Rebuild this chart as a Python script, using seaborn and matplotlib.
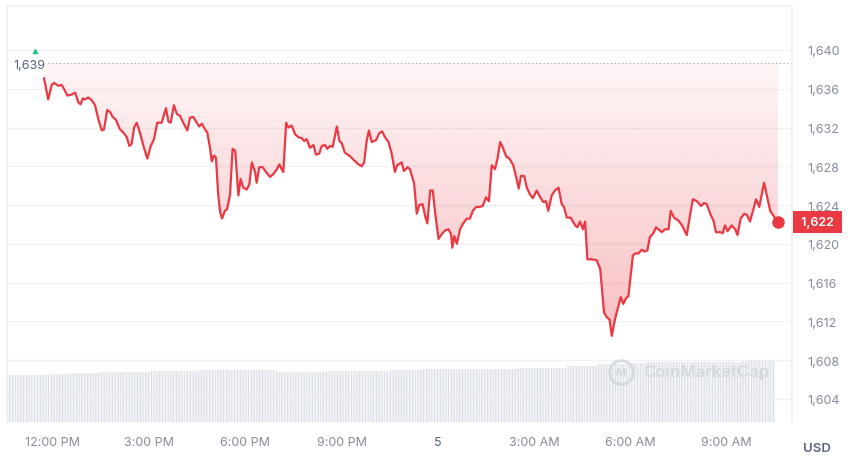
import matplotlib
matplotlib.use("Agg")
import matplotlib.pyplot as plt
import matplotlib.transforms as mtransforms
import seaborn as sns
import numpy as np
import pandas as pd

# price, hours after 12:00 PM
hours = [
    -0.28, -0.15, -0.04, 0.03, 0.17, 0.27, 0.34, 0.45, 0.58, 0.69,
    0.79, 0.86, 0.93, 1.00, 1.10, 1.21, 1.31, 1.41, 1.52, 1.59,
    1.69, 1.78, 1.86, 1.96, 2.09, 2.19, 2.30, 2.38, 2.45, 2.53,
    2.61, 2.69, 2.82, 2.94, 3.05, 3.15, 3.25, 3.39, 3.52, 3.60,
    3.67, 3.77, 3.86, 3.96, 4.06, 4.19, 4.27, 4.37, 4.48, 4.56,
    4.64, 4.74, 4.81, 4.90, 4.95, 5.02, 5.08, 5.15, 5.21, 5.27,
    5.36, 5.43, 5.52, 5.60, 5.68, 5.78, 5.85, 5.93, 6.04, 6.12,
    6.20, 6.30, 6.35, 6.43, 6.54, 6.64, 6.77, 6.87, 6.98, 7.06,
    7.13, 7.18, 7.27, 7.34, 7.44, 7.55, 7.65, 7.76, 7.83, 7.91,
    8.01, 8.12, 8.20, 8.30, 8.38, 8.48, 8.55, 8.64, 8.72, 8.85,
    8.93, 9.00, 9.10, 9.24, 9.39, 9.52, 9.63, 9.70, 9.78, 9.85,
    9.94, 10.07, 10.17, 10.26, 10.35, 10.46, 10.56, 10.66, 10.73, 10.87,
    10.94, 11.05, 11.13, 11.26, 11.34, 11.42, 11.52, 11.60, 11.67, 11.76,
    11.84, 11.91, 12.02, 12.12, 12.23, 12.33, 12.41, 12.45, 12.51, 12.59,
    12.69, 12.79, 12.90, 13.00, 13.09, 13.19, 13.29, 13.40, 13.50, 13.59,
    13.68, 13.78, 13.86, 13.94, 14.04, 14.13, 14.23, 14.35, 14.44, 14.52,
    14.59, 14.69, 14.77, 14.87, 14.96, 15.08, 15.19, 15.29, 15.37, 15.44,
    15.55, 15.65, 15.76, 15.86, 15.93, 16.02, 16.14, 16.28, 16.35, 16.43,
    16.52, 16.59, 16.66, 16.80, 16.95, 17.06, 17.18, 17.27, 17.35, 17.42,
    17.52, 17.63, 17.70, 17.78, 17.87, 17.94, 18.08, 18.15, 18.25, 18.36,
    18.43, 18.53, 18.61, 18.72, 18.80, 18.87, 18.98, 19.08, 19.19, 19.26,
    19.36, 19.50, 19.61, 19.76, 19.87, 19.95, 20.07, 20.20, 20.30, 20.38,
    20.49, 20.59, 20.67, 20.80, 20.88, 20.95, 21.03, 21.16, 21.27, 21.34,
    21.44, 21.55, 21.63, 21.73, 21.84, 21.92, 22.02, 22.17, 22.25, 22.36,
    22.46, 22.57, 22.60,
]
price = [
    1637.1, 1634.9, 1636.4, 1636.6, 1636.3, 1636.4, 1636.0, 1635.3, 1635.4, 1635.6,
    1634.6, 1634.4, 1635.0, 1634.9, 1635.1, 1634.8, 1634.3, 1632.9, 1631.7, 1631.8,
    1633.8, 1633.6, 1633.1, 1632.8, 1631.8, 1631.5, 1631.0, 1630.1, 1630.3, 1632.0,
    1632.5, 1631.7, 1630.1, 1628.8, 1630.1, 1630.8, 1632.5, 1632.5, 1634.0, 1632.6,
    1632.5, 1634.3, 1633.4, 1633.2, 1632.5, 1631.7, 1633.0, 1633.1, 1632.5, 1632.1,
    1632.4, 1631.8, 1631.5, 1629.8, 1628.5, 1629.1, 1628.9, 1625.1, 1623.3, 1622.6,
    1623.4, 1623.6, 1625.1, 1629.8, 1629.6, 1625.0, 1626.7, 1625.8, 1625.6, 1626.1,
    1628.4, 1627.4, 1626.3, 1627.9, 1627.9, 1627.4, 1626.9, 1627.2, 1627.7, 1628.2,
    1627.7, 1627.4, 1632.5, 1632.0, 1632.2, 1631.3, 1631.0, 1630.9, 1630.6, 1630.8,
    1629.9, 1630.2, 1629.2, 1629.3, 1630.1, 1630.2, 1629.8, 1630.1, 1630.0, 1632.1,
    1630.6, 1630.4, 1629.4, 1629.1, 1628.6, 1628.2, 1628.0, 1628.4, 1630.6, 1631.7,
    1630.5, 1630.7, 1631.4, 1631.6, 1631.0, 1630.5, 1629.3, 1627.4, 1628.1, 1628.4,
    1627.5, 1627.9, 1627.7, 1626.2, 1623.1, 1624.0, 1624.1, 1622.9, 1622.1, 1625.5,
    1625.5, 1623.3, 1620.5, 1621.0, 1621.4, 1621.5, 1621.0, 1619.6, 1620.8, 1620.0,
    1621.5, 1622.1, 1622.6, 1622.6, 1623.4, 1623.8, 1623.8, 1623.9, 1624.8, 1624.4,
    1628.1, 1627.7, 1628.8, 1630.5, 1629.8, 1629.0, 1628.8, 1628.1, 1626.9, 1625.7,
    1627.0, 1627.0, 1625.8, 1625.1, 1624.7, 1625.5, 1624.8, 1624.3, 1624.4, 1623.4,
    1625.0, 1625.5, 1625.8, 1624.1, 1623.8, 1622.7, 1622.7, 1621.9, 1621.7, 1622.3,
    1621.5, 1622.3, 1618.4, 1618.4, 1618.3, 1617.4, 1612.9, 1612.4, 1612.2, 1610.5,
    1612.2, 1613.6, 1614.5, 1613.8, 1614.4, 1614.6, 1618.8, 1619.0, 1619.0, 1619.4,
    1619.2, 1619.3, 1620.7, 1621.1, 1621.7, 1621.5, 1621.2, 1621.5, 1621.5, 1623.4,
    1622.7, 1622.4, 1621.9, 1620.9, 1623.1, 1624.6, 1624.4, 1623.9, 1624.2, 1624.1,
    1623.1, 1622.4, 1621.2, 1621.2, 1621.1, 1621.9, 1621.3, 1621.9, 1621.5, 1620.9,
    1622.6, 1623.1, 1623.0, 1622.3, 1623.6, 1624.6, 1623.8, 1626.3, 1625.1, 1623.4,
    1622.9, 1622.4, 1622.2,
]

# volume bars (half hour buckets), rough values in millions
vol_hours = [
    -1.25, -0.75, -0.25, 0.25, 0.75, 1.25, 1.75, 2.25, 2.75, 3.25,
    3.75, 4.25, 4.75, 5.25, 5.75, 6.25, 6.75, 7.25, 7.75, 8.25,
    8.75, 9.25, 9.75, 10.25, 10.75, 11.25, 11.75, 12.25, 12.75, 13.25,
    13.75, 14.25, 14.75, 15.25, 15.75, 16.25, 16.75, 17.25, 17.75, 18.25,
    18.75, 19.25, 19.75, 20.25, 20.75, 21.25, 21.75, 22.25,
]
volume = [
    236, 236, 237, 238, 244, 245, 249, 250, 251, 254,
    255, 257, 260, 261, 262, 262, 258, 251, 250, 252,
    254, 255, 256, 257, 258, 262, 265, 266, 266, 265,
    266, 267, 269, 270, 272, 278, 282, 288, 290, 293,
    298, 300, 301, 301, 302, 302, 303, 303,
]

ref_price = 1638.66
tick_hours = [0, 3, 6, 9, 12, 15, 18, 21]
tick_labels = ["12:00 PM", "3:00 PM", "6:00 PM", "9:00 PM", "5", "3:00 AM", "6:00 AM", "9:00 AM"]
price_ticks = [1604, 1608, 1612, 1616, 1620, 1624, 1628, 1632, 1636, 1640]

red = "#ea3943"
grey = "#858c9a"
dark = "#58667e"

sns.set_theme(style="white")
plt.rcParams["font.family"] = ["Inter", "DejaVu Sans"]
plt.rcParams["hatch.linewidth"] = 0.5

df = pd.DataFrame({"hours": hours, "price": price})

fig = plt.figure(figsize=(8.5, 4.64), dpi=100)
ax = fig.add_axes([7 / 850, 1 - 423 / 464, 785 / 850, 416 / 464])

# volume underneath
axv = ax.twinx()
axv.bar(vol_hours, volume, width=0.52, color="#f1f3f6", edgecolor="#d3d8df",
        linewidth=0, hatch="||||||")
axv.set_ylim(0, 2080)
axv.set_yticks([])
for s in axv.spines.values():
    s.set_visible(False)
ax.set_zorder(axv.get_zorder() + 1)
ax.patch.set_visible(False)

# gradient fill between price and reference level
poly = ax.fill_between(df["hours"], df["price"], ref_price, color="none", lw=0)
lo = min(price)
alpha = np.linspace(0.32, 0.05, 256).reshape(-1, 1)
img = np.zeros((256, 1, 4))
img[..., 0] = 234 / 255
img[..., 1] = 57 / 255
img[..., 2] = 67 / 255
img[..., 3] = alpha[:, 0:1]
im = ax.imshow(img, extent=(hours[0], hours[-1], lo, ref_price), origin="lower",
               aspect="auto", zorder=1)
im.set_clip_path(poly.get_paths()[0], transform=ax.transData)

sns.lineplot(data=df, x="hours", y="price", color=red, linewidth=1.6, ax=ax, zorder=3)
ax.plot(hours[-1], price[-1], "o", color=red, ms=8, zorder=4)

ax.axhline(ref_price, xmin=0.052, xmax=1, color="#a3a9b5", lw=0.9,
           linestyle=(0, (1, 2)), zorder=2)
ax.annotate(f"{ref_price:,.0f}", xy=(hours[0], ref_price), xytext=(1, -2),
            textcoords="offset pixels", ha="right", va="center",
            fontsize=9, color=dark)
tri = mtransforms.offset_copy(ax.transData, fig=fig, x=-9, y=12, units="dots")
ax.plot(hours[0], ref_price, marker="^", ms=3, color="#16c784", transform=tri)

ax.set_xlim(-1.434, 23.04)
ax.set_ylim(1601.61, 1644.54)
ax.set_xticks(tick_hours, tick_labels)
ax.yaxis.tick_right()
ax.set_yticks(price_ticks, [f"{p:,}" for p in price_ticks])
ax.tick_params(axis="x", length=0, pad=10, labelsize=9, colors=grey)
ax.tick_params(axis="y", length=0, pad=11, labelsize=9, colors=grey)
ax.get_xticklabels()[4].set_color(dark)
ax.set_xlabel("")
ax.set_ylabel("")
ax.grid(axis="y", color="#eff1f4", lw=1)
for s in ax.spines.values():
    s.set_color("#eef0f3")
ax.spines["bottom"].set_visible(False)

# last price tag
ax.annotate(f" {price[-1]:,.0f} ", xy=(1.0325, price[-1]),
            xycoords=("axes fraction", "data"), ha="center", va="center",
            fontsize=9, color="white", fontweight="semibold",
            bbox=dict(boxstyle="square,pad=0.4", fc=red, ec="none"))

# watermark
ax.plot([0.782], [0.121], marker="o", ms=17, mfc="none", mec="#d5d9e0", mew=2,
        transform=ax.transAxes)
ax.text(0.782, 0.121, "M", transform=ax.transAxes, ha="center", va="center",
        fontsize=8, color="#d5d9e0", fontweight="bold")
ax.text(0.81, 0.121, "CoinMarketCap", transform=ax.transAxes, ha="left",
        va="center", fontsize=12, color="#d5d9e0", fontweight="semibold")

fig.text(817 / 850, 1 - 449 / 464, "USD", ha="center", va="center",
         fontsize=9.5, color=dark, fontweight="semibold")

fig.savefig("out.png", dpi=100)
